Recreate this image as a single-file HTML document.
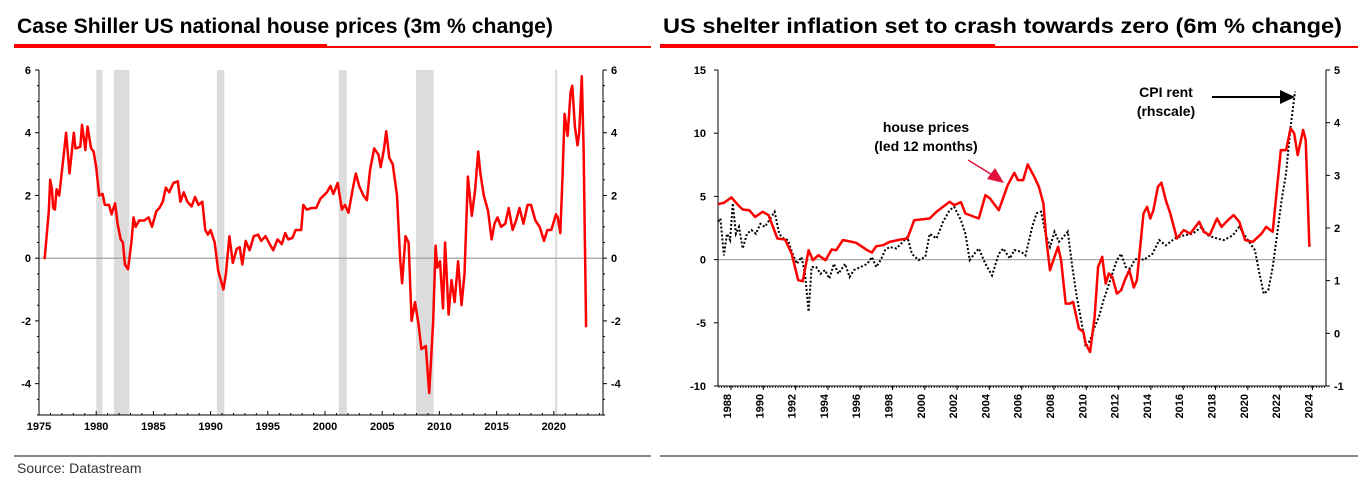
<!DOCTYPE html>
<html><head><meta charset="utf-8"><style>
html,body{margin:0;padding:0;background:#fff;}
svg{display:block;font-family:"Liberation Sans",Arial,sans-serif;}
</style></head><body>
<svg id="root" width="1358" height="484" viewBox="0 0 1358 484" xmlns="http://www.w3.org/2000/svg">
<text x="17" y="33" font-size="21" font-weight="bold" textLength="536" lengthAdjust="spacingAndGlyphs">Case Shiller US national house prices (3m % change)</text>
<rect x="14" y="44" width="313" height="4" fill="#f00"/>
<rect x="327" y="46" width="324" height="2" fill="#f00"/>
<text x="663" y="33" font-size="21" font-weight="bold" textLength="679" lengthAdjust="spacingAndGlyphs">US shelter inflation set to crash towards zero (6m % change)</text>
<rect x="660" y="44" width="335" height="4" fill="#f00"/>
<rect x="995" y="46" width="363" height="2" fill="#f00"/>
<rect x="14" y="455" width="637" height="2" fill="#888"/>
<rect x="660" y="455" width="698" height="2" fill="#888"/>
<text x="17" y="473" font-size="14" fill="#333">Source: Datastream</text>
<g id="left"></g>
<g id="right"></g>
<g>
<text x="926" y="132" font-size="14" font-weight="bold" text-anchor="middle">house prices</text>
<text x="926" y="151" font-size="14" font-weight="bold" text-anchor="middle">(led 12 months)</text>
<line x1="968" y1="160" x2="994" y2="176" stroke="#e0103a" stroke-width="1.5"/>
<polygon points="1004,183 987,179 995,168" fill="#e0103a"/>
</g>
<g>
<text x="1166" y="97" font-size="14" font-weight="bold" text-anchor="middle">CPI rent</text>
<text x="1166" y="116" font-size="14" font-weight="bold" text-anchor="middle">(rhscale)</text>
<line x1="1212" y1="97" x2="1285" y2="97" stroke="#000" stroke-width="2"/>
<polygon points="1295,97 1280,90 1280,104" fill="#000"/>
</g>
</svg>
<script>
// ===== Left chart data =====
const lYears=[1975.45,1975.5,1975.86,1975.98,1976.13,1976.24,1976.39,1976.54,1976.77,1977.07,1977.37,1977.67,1978.04,1978.19,1978.61,1978.76,1979.06,1979.24,1979.55,1979.77,1980.0,1980.26,1980.56,1980.75,1981.12,1981.35,1981.65,1981.87,1982.14,1982.33,1982.51,1982.78,1983.08,1983.26,1983.45,1983.75,1984.2,1984.58,1984.88,1985.26,1985.52,1985.82,1986.08,1986.38,1986.76,1987.13,1987.36,1987.66,1987.96,1988.34,1988.64,1988.94,1989.27,1989.54,1989.76,1989.99,1990.36,1990.66,1991.12,1991.34,1991.64,1991.94,1992.28,1992.54,1992.77,1993.07,1993.41,1993.78,1994.16,1994.42,1994.8,1995.17,1995.47,1995.85,1996.22,1996.52,1996.79,1997.16,1997.43,1997.92,1998.1,1998.4,1998.85,1999.23,1999.61,2000.17,2000.47,2000.73,2001.11,2001.48,2001.75,2002.05,2002.42,2002.69,2002.99,2003.36,2003.66,2003.93,2004.3,2004.68,2004.87,2005.17,2005.35,2005.62,2005.92,2006.29,2006.56,2006.74,2007.04,2007.31,2007.57,2007.87,2008.17,2008.43,2008.81,2009.11,2009.46,2009.67,2009.82,2010.05,2010.31,2010.5,2010.8,2011.06,2011.33,2011.63,2011.93,2012.19,2012.49,2012.83,2013.13,2013.39,2013.58,2013.88,2014.26,2014.56,2014.82,2015.08,2015.38,2015.76,2016.06,2016.4,2016.7,2017.0,2017.34,2017.71,2018.01,2018.39,2018.76,2019.14,2019.44,2019.78,2020.19,2020.34,2020.57,2020.75,2020.94,2021.21,2021.47,2021.62,2021.84,2022.07,2022.22,2022.45,2022.6,2022.82];
const lValues=[0.05,0.0,1.5,2.5,2.2,1.6,1.55,2.2,2.0,3.0,4.0,2.7,4.0,3.5,3.55,4.25,3.45,4.2,3.5,3.4,2.9,2.0,2.05,1.7,1.7,1.4,1.75,1.1,0.6,0.5,-0.2,-0.35,0.5,1.3,1.0,1.2,1.2,1.3,1.0,1.5,1.6,1.8,2.25,2.1,2.4,2.45,1.8,2.1,1.8,1.65,1.95,1.7,1.8,0.9,0.75,0.9,0.5,-0.4,-1.0,-0.5,0.7,-0.15,0.3,0.35,-0.2,0.55,0.25,0.7,0.75,0.55,0.7,0.45,0.25,0.6,0.45,0.8,0.6,0.65,0.9,0.9,1.7,1.55,1.6,1.6,1.9,2.1,2.3,2.05,2.4,1.55,1.7,1.45,2.2,2.7,2.3,2.0,1.85,2.8,3.5,3.3,2.9,3.5,4.05,3.2,3.0,2.0,0.0,-0.8,0.7,0.5,-2.0,-1.4,-2.1,-2.9,-2.8,-4.3,-2.0,0.4,-0.3,-0.1,-1.6,0.5,-1.8,-0.7,-1.4,-0.1,-1.5,-0.5,2.6,1.35,2.2,3.4,2.7,2.0,1.5,0.6,1.1,1.3,1.0,1.1,1.6,0.9,1.2,1.6,1.1,1.7,1.7,1.2,1.0,0.55,0.9,0.9,1.4,1.3,0.8,2.5,4.6,3.9,5.3,5.5,4.2,3.6,4.0,5.8,3.5,-2.2];
const recStart=[1980.0,1981.55,1990.55,2001.2,2007.95,2020.1];
const recEnd=[1980.55,1982.9,1991.2,2001.9,2009.5,2020.3];
const lYTicks=[6,4,2,0,-2,-4];
const lXTicks=[1975,1980,1985,1990,1995,2000,2005,2010,2015,2020];
// ===== Right chart data =====
const hpYears=[1987.45,1987.81,1988.28,1988.63,1988.97,1989.38,1989.74,1990.21,1990.57,1991.12,1991.59,1992.0,1992.41,1992.69,1993.05,1993.32,1993.66,1994.1,1994.48,1994.76,1995.17,1995.45,1996.0,1996.69,1996.97,1997.24,1997.66,1998.07,1998.76,1999.17,1999.59,2000.0,2000.55,2000.97,2001.38,2001.79,2002.07,2002.48,2002.76,2003.59,2004.0,2004.28,2004.83,2005.38,2005.79,2006.01,2006.34,2006.62,2007.03,2007.31,2007.59,2007.78,2008.0,2008.28,2008.5,2008.69,2008.97,2009.24,2009.43,2009.79,2010.07,2010.21,2010.48,2010.76,2010.98,2011.23,2011.45,2011.64,2011.86,2012.14,2012.41,2012.63,2012.91,2013.19,2013.38,2013.79,2014.01,2014.21,2014.4,2014.68,2014.9,2015.17,2015.45,2015.86,2016.28,2016.69,2017.24,2017.52,2017.88,2018.34,2018.62,2018.98,2019.37,2019.72,2020.08,2020.55,2021.1,2021.38,2021.79,2022.29,2022.62,2022.9,2023.12,2023.34,2023.67,2023.83,2024.06];
const hpValues=[4.39,4.49,4.92,4.39,3.96,3.91,3.38,3.78,3.52,1.67,1.59,0.48,-1.63,-1.71,0.74,-0.05,0.35,-0.05,0.8,0.74,1.54,1.48,1.33,0.74,0.56,1.06,1.14,1.4,1.59,1.67,3.12,3.17,3.25,3.78,4.18,4.57,4.31,4.55,3.65,3.25,5.1,4.84,3.91,5.89,6.87,6.29,6.29,7.53,6.55,5.76,4.44,1.54,-0.84,0.22,1.01,-0.05,-3.48,-3.48,-3.35,-5.46,-5.72,-6.65,-7.31,-4.54,-0.58,0.22,-1.9,-1.1,-1.37,-2.69,-2.42,-1.63,-0.84,-2.21,-1.63,3.65,4.18,3.25,3.91,5.76,6.08,4.7,3.65,1.67,2.33,2.06,2.99,2.2,1.93,3.25,2.59,3.07,3.52,2.99,1.54,1.4,2.06,2.59,2.2,8.66,8.66,10.38,9.98,8.27,10.25,9.46,1.01];
const cpiYears=[1987.45,1987.59,1987.81,1988.0,1988.19,1988.36,1988.55,1988.74,1988.97,1989.24,1989.52,1989.79,1990.07,1990.34,1990.62,1990.95,1991.23,1991.5,1991.78,1992.06,1992.33,1992.61,1992.83,1993.05,1993.24,1993.52,1993.79,1994.07,1994.34,1994.62,1994.9,1995.31,1995.59,1995.86,1996.28,1996.69,1996.97,1997.24,1997.52,1997.79,1998.07,1998.48,1998.9,1999.17,1999.45,1999.86,2000.28,2000.55,2000.97,2001.38,2001.79,2002.07,2002.48,2002.76,2003.03,2003.31,2003.59,2004.0,2004.41,2004.83,2005.1,2005.52,2005.79,2006.21,2006.48,2006.9,2007.17,2007.45,2007.72,2008.0,2008.28,2008.55,2008.83,2009.1,2009.38,2009.66,2009.93,2010.21,2010.48,2010.76,2011.03,2011.31,2011.59,2011.86,2012.14,2012.41,2012.69,2012.97,2013.24,2013.52,2013.79,2014.07,2014.34,2014.76,2015.17,2015.72,2016.28,2016.83,2017.38,2017.79,2018.34,2018.76,2019.31,2019.72,2020.0,2020.41,2020.69,2020.97,2021.24,2021.52,2021.79,2022.07,2022.34,2022.62,2022.9,2023.17];
const cpiValues=[2.12,2.18,1.48,1.89,1.77,2.47,1.89,2.02,1.61,1.89,1.96,1.89,2.08,2.02,2.15,2.31,1.89,1.8,1.77,1.51,1.32,1.45,1.13,0.41,1.26,1.26,1.13,1.2,1.04,1.32,1.13,1.32,1.07,1.2,1.26,1.32,1.45,1.26,1.39,1.58,1.64,1.61,1.74,1.83,1.51,1.39,1.45,1.89,1.8,2.12,2.34,2.4,2.15,1.89,1.39,1.51,1.61,1.32,1.1,1.51,1.61,1.42,1.58,1.55,1.48,2.02,2.28,2.31,1.89,1.64,1.93,1.74,1.83,1.93,1.26,0.69,0.25,-0.26,-0.13,0.12,0.31,0.63,0.88,1.13,1.39,1.51,1.26,1.23,1.39,1.45,1.39,1.45,1.51,1.77,1.67,1.8,1.86,1.89,2.02,1.86,1.8,1.77,1.86,2.02,1.89,1.7,1.58,1.13,0.75,0.82,1.26,1.89,2.53,3.04,3.92,4.59];
const rLTicks=[15,10,5,0,-5,-10];
const rRTicks=[5,4,3,2,1,0,-1];
const rXTicks=[1988,1990,1992,1994,1996,1998,2000,2002,2004,2006,2008,2010,2012,2014,2016,2018,2020,2022,2024];

const NS='http://www.w3.org/2000/svg';
function mk(parent,tag,attrs,txt){const e=document.createElementNS(NS,tag);for(const k in attrs)e.setAttribute(k,attrs[k]);if(txt!==undefined)e.textContent=txt;parent.appendChild(e);return e;}

// Left axes
const L={x0:39,x1:603,y0:70,y1:415,ymin:-5,ymax:6,t0:1975,t1:2024.3};
const lx=t=>L.x0+(t-L.t0)*(L.x1-L.x0)/(L.t1-L.t0);
const ly=v=>L.y1-(v-L.ymin)*(L.y1-L.y0)/(L.ymax-L.ymin);
const lg=document.getElementById('left');
for(let i=0;i<recStart.length;i++){
  const r=mk(lg,'rect',{x:lx(recStart[i]),y:L.y0,width:Math.max(1.5,lx(recEnd[i])-lx(recStart[i])),height:L.y1-L.y0,fill:'#dcdcdc'});
  
  
}
const lz=mk(lg,'line',{x1:L.x0,x2:L.x1,y1:ly(0),y2:ly(0),stroke:'#999','stroke-width':1.2});


const lax=mk(lg,'path',{d:`M${L.x0},${L.y0}V${L.y1}H${L.x1}V${L.y0}`,fill:'none',stroke:'#000','stroke-width':1});


for(let v=L.ymin;v<=L.ymax;v+=0.5){
  const len=Number.isInteger(v/2)?4:2;
  mk(lg,'line',{x1:L.x0-len,x2:L.x0,y1:ly(v),y2:ly(v),stroke:'#000'});
  mk(lg,'line',{x1:L.x1,x2:L.x1+len,y1:ly(v),y2:ly(v),stroke:'#000'});
}
lYTicks.forEach(v=>{
  const a=mk(lg,'text',{x:L.x0-8,y:ly(v)+4,'font-size':11,'font-weight':'bold','text-anchor':'end'},String(v));
  
  
  const b=mk(lg,'text',{x:L.x1+8,y:ly(v)+4,'font-size':11,'font-weight':'bold'},String(v));
  
  
});
for(let t=1975;t<=2024;t++){mk(lg,'line',{x1:lx(t),x2:lx(t),y1:L.y1,y2:L.y1-(t%5===0?4:2),stroke:'#000'});}
lXTicks.forEach(t=>{
  const a=mk(lg,'text',{x:lx(t),y:L.y1+15,'font-size':11,'font-weight':'bold','text-anchor':'middle'},String(t));
  
  
});
const lp=mk(lg,'path',{d:lYears.map((t,i)=>(i?'L':'M')+lx(t).toFixed(1)+','+ly(lValues[i]).toFixed(1)).join(''),fill:'none',stroke:'#f00','stroke-width':2.5,'stroke-linejoin':'round'});



// Right axes
const R={x0:718,x1:1326,y0:70,y1:386,lmin:-10,lmax:15,rmin:-1,rmax:5};
const rx=t=>727+(t-1988)*16.15;
const ryl=v=>R.y1-(v-R.lmin)*(R.y1-R.y0)/(R.lmax-R.lmin);
const ryr=v=>R.y1-(v-R.rmin)*(R.y1-R.y0)/(R.rmax-R.rmin);
const rg=document.getElementById('right');
const rz=mk(rg,'line',{x1:R.x0,x2:R.x1,y1:ryl(0),y2:ryl(0),stroke:'#aaa','stroke-width':1.2});


const rax=mk(rg,'path',{d:`M${R.x0},${R.y0}V${R.y1}H${R.x1}V${R.y0}`,fill:'none',stroke:'#000','stroke-width':1});


rLTicks.forEach(v=>{
  mk(rg,'line',{x1:R.x0-4,x2:R.x0,y1:ryl(v),y2:ryl(v),stroke:'#000'});
  const a=mk(rg,'text',{x:R.x0-12,y:ryl(v)+4,'font-size':11,'font-weight':'bold','text-anchor':'end'},String(v));
  
  
});
rRTicks.forEach(v=>{
  mk(rg,'line',{x1:R.x1,x2:R.x1+4,y1:ryr(v),y2:ryr(v),stroke:'#000'});
  const a=mk(rg,'text',{x:R.x1+8,y:ryr(v)+4,'font-size':11,'font-weight':'bold'},String(v));
  
  
});
for(let m=0;m<38*12;m+=2){const t=1987.5+m/12;if(rx(t)>R.x1)break;mk(rg,'line',{x1:rx(t),x2:rx(t),y1:R.y1,y2:R.y1+2,stroke:'#000','stroke-width':0.8});}
rXTicks.forEach(t=>{
  mk(rg,'line',{x1:rx(t)+4,x2:rx(t)+4,y1:R.y1,y2:R.y1+4,stroke:'#000'});
  const a=mk(rg,'text',{x:0,y:0,'font-size':11,'font-weight':'bold','text-anchor':'end',transform:`translate(${(rx(t)+4).toFixed(1)},${R.y1+8}) rotate(-90)`},String(t));
  
  
});
const cp=mk(rg,'path',{d:cpiYears.map((t,i)=>(i?'L':'M')+rx(t).toFixed(1)+','+ryr(cpiValues[i]).toFixed(1)).join(''),fill:'none',stroke:'#000','stroke-width':2,'stroke-dasharray':'2,2'});


const hp=mk(rg,'path',{d:hpYears.map((t,i)=>(i?'L':'M')+rx(t).toFixed(1)+','+ryl(hpValues[i]).toFixed(1)).join(''),fill:'none',stroke:'#f00','stroke-width':2.5,'stroke-linejoin':'round'});


</script>
</body></html>
